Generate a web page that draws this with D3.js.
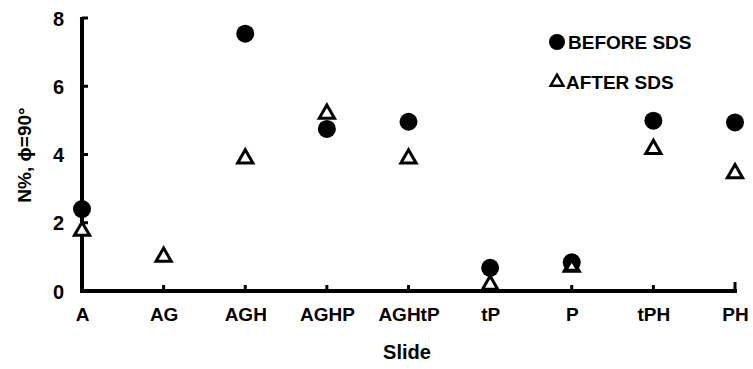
<!DOCTYPE html>
<html><head><meta charset="utf-8">
<script src="https://cdn.jsdelivr.net/npm/d3@7"></script>
<style>body{margin:0;background:#fff}text{font-family:"Liberation Sans",Arial,sans-serif;font-weight:bold;fill:#000}</style>
</head><body><svg id="c" width="753" height="369"></svg>
<script>
const categories = ["A","AG","AGH","AGHP","AGHtP","tP","P","tPH","PH"];
const beforeSDS = [2.40, null, 7.54, 4.75, 4.96, 0.68, 0.84, 4.99, 4.94];
const afterSDS  = [1.76, 1.00, 3.88, 5.19, 3.88, 0.18, 0.71, 4.16, 3.45];
const yTicks = [0,2,4,6,8];
const seriesNames = ["BEFORE SDS","AFTER SDS"];

const svg = d3.select("#c");
const x = d3.scalePoint().domain(categories).range([82,735]);
const y = d3.scaleLinear().domain([0,8]).range([291,18]);

const g = svg.append("g");
g.append("line").attr("x1",82).attr("x2",82).attr("y1",y(8)-1).attr("y2",y(0)+2).attr("stroke","#000").attr("stroke-width",4);
g.append("line").attr("x1",80).attr("x2",x("PH")+2).attr("y1",y(0)).attr("y2",y(0)).attr("stroke","#000").attr("stroke-width",4);

const yAxis = d3.axisLeft(y).tickValues(yTicks).tickSize(0).tickPadding(18).tickFormat(d3.format("d"));
const ya = svg.append("g").attr("transform","translate(82,0)").call(yAxis);
ya.select(".domain").remove();
ya.selectAll("text").style("font-size","20px").attr("dy","0.35em");
svg.selectAll(".ytk").data(yTicks.filter(d=>d>0)).enter().append("line")
  .attr("x1",82).attr("x2",88).attr("y1",d=>y(d)).attr("y2",d=>y(d)).attr("stroke","#000").attr("stroke-width",3);

const xAxis = d3.axisBottom(x).tickSize(0).tickPadding(17);
const xa = svg.append("g").attr("transform",`translate(0,${y(0)})`).call(xAxis);
xa.select(".domain").remove();
xa.selectAll("text").style("font-size","19px").attr("dy","0.71em");
svg.selectAll(".xtk").data(categories.slice(1)).enter().append("line")
  .attr("x1",d=>x(d)).attr("x2",d=>x(d)).attr("y1",y(0)).attr("y2",d=>y(0)-(d==="PH"?9:6)).attr("stroke","#000").attr("stroke-width",3);

svg.append("text").attr("x",407).attr("y",359).attr("text-anchor","middle").style("font-size","20px").text("Slide");
svg.append("text").attr("transform","translate(31,155) rotate(-90)").attr("text-anchor","middle").style("font-size","19px").text("N%, \u03D5=90\u00B0");

const tri = d3.symbol().type(d3.symbolTriangle).size(100);
svg.append("g").selectAll("path").data(categories.map((c,i)=>({c,v:afterSDS[i]})).filter(d=>d.v!=null))
  .enter().append("path").attr("d",tri)
  .attr("transform",d=>`translate(${x(d.c)},${y(d.v)})`)
  .attr("fill","#fff").attr("stroke","#000").attr("stroke-width",3);
svg.append("g").selectAll("circle").data(categories.map((c,i)=>({c,v:beforeSDS[i]})).filter(d=>d.v!=null))
  .enter().append("circle").attr("cx",d=>x(d.c)).attr("cy",d=>y(d.v)).attr("r",9).attr("fill","#000");
svg.append("g").selectAll("path").data(categories.map((c,i)=>({c,v:afterSDS[i],b:beforeSDS[i]})).filter(d=>d.b!=null && Math.abs(d.b-d.v)<0.2))
  .enter().append("path").attr("d",d3.symbol().type(d3.symbolTriangle).size(45))
  .attr("transform",d=>`translate(${x(d.c)},${y(d.v)})`)
  .attr("fill","#fff").attr("stroke","#000").attr("stroke-width",2);

const leg = svg.append("g");
leg.append("circle").attr("cx",557).attr("cy",42).attr("r",8).attr("fill","#000");
leg.append("path").attr("d",d3.symbol().type(d3.symbolTriangle).size(70)).attr("transform","translate(557,82)").attr("fill","#fff").attr("stroke","#000").attr("stroke-width",2.5);
leg.selectAll("text").data(seriesNames).enter().append("text")
  .attr("x",d=>d==="BEFORE SDS"?568:566).attr("y",(d,i)=>i===0?49:89).style("font-size","19px").text(d=>d);
</script></body></html>
